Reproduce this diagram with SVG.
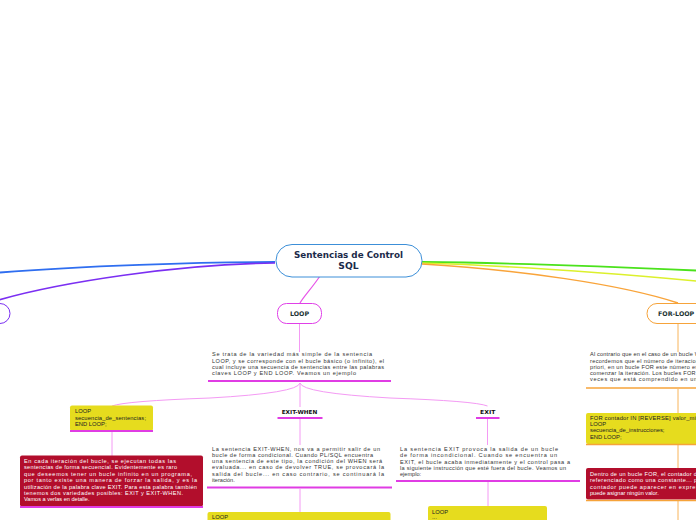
<svg xmlns="http://www.w3.org/2000/svg" width="696" height="520" viewBox="0 0 696 520">
<style>
.t{font-family:"Liberation Sans",Arial,sans-serif;font-size:5.6px;fill:#333}
.w{font-family:"Liberation Sans",Arial,sans-serif;font-size:5.6px;fill:#fff}
.c{font-family:"Liberation Sans",Arial,sans-serif;font-size:5.8px;fill:#222}
.h{font-family:"DejaVu Sans",Verdana,sans-serif;font-weight:bold;fill:#1b2a4a}
.n{font-family:"DejaVu Sans",Verdana,sans-serif;font-weight:bold;font-size:6.3px;fill:#1c3434}
.l{font-family:"DejaVu Sans",Verdana,sans-serif;font-weight:bold;font-size:5.4px;fill:#111}
.um{stroke:#e03ce4;stroke-width:2;fill:none}
.uo{stroke:#f6a33a;stroke-width:1.6;fill:none}
.vm{stroke:#f49af4;stroke-width:1;fill:none}
.vo{stroke:#f8b45a;stroke-width:1;fill:none}
.yb{fill:#e6dc1e}
.rb{fill:#b20e2c}
</style>
<g id="connectors" fill="none">
<path d="M275,262 C200,262 80,266 0,272.5" stroke="#2f6ef0" stroke-width="1.8"/>
<path d="M275,263 C180,264 60,282 -5,301" stroke="#7b2ff2" stroke-width="1.6"/>
<path d="M422,262 C520,263 620,267 696,270.5" stroke="#4be21c" stroke-width="1.8"/>
<path d="M422,263 C520,266 620,274 696,281" stroke="#dcf02c" stroke-width="1.6"/>
<path d="M422,264 C520,270 620,284 678,303" stroke="#f9a43a" stroke-width="1.4"/>
<path d="M320,276 C312,288 304,296 300,303" stroke="#e755e8" stroke-width="1.2"/>
<path class="vm" d="M299.5,323 V352"/>
<path class="vm" d="M300,383 Q298,393 210,398 Q125,401 112,406"/>
<path class="vm" d="M300,383 Q302,393 390,398 Q475,401 487.5,406"/>
<path class="vm" d="M300,383 V407"/>
<path class="vm" d="M112,432 V456"/>
<path class="vm" d="M300,419 V445"/>
<path class="vm" d="M300,489 V512"/>
<path class="vm" d="M487.5,419 V445"/>
<path class="vm" d="M488,482 V506"/>
<path class="vo" d="M678,323 V352 M678,389 V413 M678,445 V469 M678,501 V520"/>
</g>
<g id="root">
<rect x="276" y="244.5" width="146" height="32.5" rx="16" fill="#fff" stroke="#3c8fd8" stroke-width="1"/>
<text class="h" x="348.5" y="258.3" font-size="9.2" text-anchor="middle" textLength="109" lengthAdjust="spacingAndGlyphs">Sentencias de Control</text>
<text class="h" x="348.5" y="269.2" font-size="9.2" text-anchor="middle">SQL</text>
</g>
<g id="node-left">
<rect x="-60" y="303.5" width="70" height="20" rx="10" fill="#fff" stroke="#7b2ff2" stroke-width="1"/>
</g>
<g id="node-loop">
<rect x="277.5" y="303.5" width="44" height="20" rx="9" fill="#fff" stroke="#e040e8" stroke-width="1"/>
<text class="n" x="299.5" y="315.8" text-anchor="middle">LOOP</text>
</g>
<g id="node-for-loop">
<rect x="647" y="303.5" width="70" height="20" rx="10" fill="#fff" stroke="#f6a33a" stroke-width="1"/>
<text class="n" x="658" y="315.8">FOR-LOOP</text>
</g>
<g id="loop-desc">
<text class="t" x="212" y="356.3" textLength="160" lengthAdjust="spacing">Se trata de la variedad más simple de la sentencia</text>
<text class="t" x="212" y="362.5" textLength="172" lengthAdjust="spacing">LOOP, y se corresponde con el bucle básico (o infinito), el</text>
<text class="t" x="212" y="368.8" textLength="172" lengthAdjust="spacing">cual incluye una secuencia de sentencias entre las palabras</text>
<text class="t" x="212" y="375" textLength="144" lengthAdjust="spacing">claves LOOP y END LOOP. Veamos un ejemplo</text>
<path class="um" d="M208,381 H391"/>
</g>
<g id="loop-code">
<rect class="yb" x="70" y="405.5" width="83" height="25.5" rx="2"/>
<text class="c" x="75" y="413.3">LOOP</text>
<text class="c" x="75" y="419.7" textLength="71" lengthAdjust="spacing">secuencia_de_sentencias;</text>
<text class="c" x="75" y="426">END LOOP;</text>
<path class="um" d="M70,431 H153"/>
</g>
<g id="loop-note">
<rect class="rb" x="20" y="455.5" width="183" height="51" rx="2"/>
<text class="w" x="24" y="463" textLength="152" lengthAdjust="spacing">En cada iteración del bucle, se ejecutan todas las</text>
<text class="w" x="24" y="469.4" textLength="153" lengthAdjust="spacing">sentencias de forma secuencial. Evidentemente es raro</text>
<text class="w" x="24" y="475.8" textLength="168" lengthAdjust="spacing">que deseemos tener un bucle infinito en un programa,</text>
<text class="w" x="24" y="482.2" textLength="173" lengthAdjust="spacing">por tanto existe una manera de forzar la salida, y es la</text>
<text class="w" x="24" y="488.6" textLength="173" lengthAdjust="spacing">utilización de la palabra clave EXIT. Para esta palabra también</text>
<text class="w" x="24" y="495" textLength="159" lengthAdjust="spacing">tenemos dos variedades posibles: EXIT y EXIT-WHEN.</text>
<text class="w" x="24" y="501.4">Vamos a verlas en detalle.</text>
<path class="um" d="M20,507 H203"/>
</g>
<g id="exit-when">
<text class="l" x="299.5" y="413.5" text-anchor="middle" textLength="35.6" lengthAdjust="spacingAndGlyphs">EXIT-WHEN</text>
<path class="um" d="M277.5,418 H322.5"/>
</g>
<g id="exit-when-desc">
<text class="t" x="212" y="450.8" textLength="168" lengthAdjust="spacing">La sentencia EXIT-WHEN, nos va a permitir salir de un</text>
<text class="t" x="212" y="457" textLength="161" lengthAdjust="spacing">bucle de forma condicional. Cuando PL/SQL encuentra</text>
<text class="t" x="212" y="463.2" textLength="170" lengthAdjust="spacing">una sentencia de este tipo, la condición del WHEN será</text>
<text class="t" x="212" y="469.4" textLength="172" lengthAdjust="spacing">evaluada... en caso de devolver TRUE, se provocará la</text>
<text class="t" x="212" y="475.6" textLength="172" lengthAdjust="spacing">salida del bucle... en caso contrario, se continuará la</text>
<text class="t" x="212" y="481.8">iteración.</text>
<path class="um" d="M207,487.5 H392"/>
</g>
<g id="exit-when-code">
<rect class="yb" x="207.5" y="512" width="183" height="20" rx="2"/>
<text class="c" x="212" y="519.3">LOOP</text>
</g>
<g id="exit">
<text class="l" x="487.7" y="413.5" text-anchor="middle" textLength="15.3" lengthAdjust="spacingAndGlyphs">EXIT</text>
<path class="um" d="M476,418 H499.5"/>
</g>
<g id="exit-desc">
<text class="t" x="400" y="450.8" textLength="158" lengthAdjust="spacing">La sentencia EXIT provoca la salida de un bucle</text>
<text class="t" x="400" y="457.2" textLength="157" lengthAdjust="spacing">de forma incondicional. Cuando se encuentra un</text>
<text class="t" x="400" y="463.6" textLength="170" lengthAdjust="spacing">EXIT, el bucle acaba inmediatamente y el control pasa a</text>
<text class="t" x="400" y="470" textLength="166" lengthAdjust="spacing">la siguiente instrucción que esté fuera del bucle. Veamos un</text>
<text class="t" x="400" y="476.4">ejemplo:</text>
<path class="um" d="M396,481 H580"/>
</g>
<g id="exit-code">
<rect class="yb" x="428" y="506" width="119" height="24" rx="2"/>
<text class="c" x="432" y="513.5">LOOP</text>
<text class="c" x="432" y="519.3">...</text>
</g>
<g id="for-desc">
<text class="t" x="590" y="356.3" textLength="151" lengthAdjust="spacing">Al contrario que en el caso de un bucle WHILE, en el que</text>
<text class="t" x="590" y="362.5" textLength="165" lengthAdjust="spacing">recordemos que el número de iteraciones no es conocido a</text>
<text class="t" x="590" y="368.7" textLength="160" lengthAdjust="spacing">priori, en un bucle FOR este número es conocido antes de</text>
<text class="t" x="590" y="375" textLength="184" lengthAdjust="spacing">comenzar la iteración. Los bucles FOR se repiten un número fijo de</text>
<text class="t" x="590" y="381.2" textLength="129" lengthAdjust="spacing">veces que está comprendido en un rango.</text>
<path class="uo" d="M586,388 H696"/>
</g>
<g id="for-code">
<rect class="yb" x="586" y="413" width="140" height="31" rx="2"/>
<text class="c" x="590" y="419.7" textLength="161" lengthAdjust="spacing">FOR contador IN [REVERSE] valor_minimo..valor_maximo</text>
<text class="c" x="590" y="425.8">LOOP</text>
<text class="c" x="590" y="432">secuencia_de_instrucciones;</text>
<text class="c" x="590" y="438.5">END LOOP;</text>
<path class="uo" d="M586,444.5 H696"/>
</g>
<g id="for-note">
<rect class="rb" x="586" y="468" width="140" height="31.5" rx="2"/>
<text class="w" x="590" y="476" textLength="158" lengthAdjust="spacing">Dentro de un bucle FOR, el contador del bucle puede ser</text>
<text class="w" x="590" y="482.2" textLength="140" lengthAdjust="spacing">referenciado como una constante... por lo que el</text>
<text class="w" x="590" y="489" textLength="170" lengthAdjust="spacing">contador puede aparecer en expresiones, pero no se le</text>
<text class="w" x="590" y="495.3">puede asignar ningún valor.</text>
<path class="uo" d="M586,500.5 H696"/>
</g>
</svg>
